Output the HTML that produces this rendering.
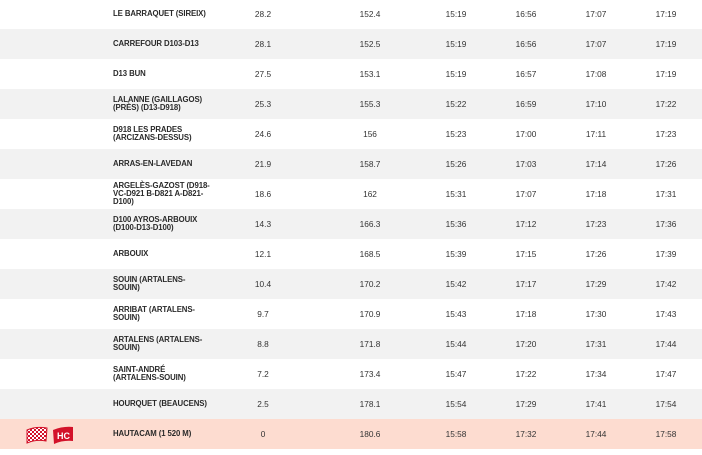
<!DOCTYPE html>
<html><head><meta charset="utf-8"><style>
body{margin:0;width:702px;height:455px;background:#fff;overflow:hidden;font-family:"Liberation Sans","DejaVu Sans",sans-serif;color:#222;}
.r{position:absolute;left:0;width:702px;height:30px;}
.g{background:#f2f2f2}.p{background:#fddcd0}
.n{position:absolute;left:113px;top:0;height:30px;width:112px;display:flex;align-items:center;font-size:7.8px;font-weight:bold;line-height:8px;color:#2a2a2a;letter-spacing:-0.1px}
.c{position:absolute;top:0;height:30px;line-height:30px;font-size:8.3px;text-align:center;width:50px;color:#333}
</style></head><body>
<div id="t"></div>
<script>
var d=[
["LE BARRAQUET (SIREIX)","28.2","152.4","15:19","16:56","17:07","17:19"],
["CARREFOUR D103-D13","28.1","152.5","15:19","16:56","17:07","17:19"],
["D13 BUN","27.5","153.1","15:19","16:57","17:08","17:19"],
["LALANNE (GAILLAGOS)<br>(PRÈS) (D13-D918)","25.3","155.3","15:22","16:59","17:10","17:22"],
["D918 LES PRADES<br>(ARCIZANS-DESSUS)","24.6","156","15:23","17:00","17:11","17:23"],
["ARRAS-EN-LAVEDAN","21.9","158.7","15:26","17:03","17:14","17:26"],
["ARGELÈS-GAZOST (D918-<br>VC-D921 B-D821 A-D821-<br>D100)","18.6","162","15:31","17:07","17:18","17:31"],
["D100 AYROS-ARBOUIX<br>(D100-D13-D100)","14.3","166.3","15:36","17:12","17:23","17:36"],
["ARBOUIX","12.1","168.5","15:39","17:15","17:26","17:39"],
["SOUIN (ARTALENS-<br>SOUIN)","10.4","170.2","15:42","17:17","17:29","17:42"],
["ARRIBAT (ARTALENS-<br>SOUIN)","9.7","170.9","15:43","17:18","17:30","17:43"],
["ARTALENS (ARTALENS-<br>SOUIN)","8.8","171.8","15:44","17:20","17:31","17:44"],
["SAINT-ANDRÉ<br>(ARTALENS-SOUIN)","7.2","173.4","15:47","17:22","17:34","17:47"],
["HOURQUET (BEAUCENS)","2.5","178.1","15:54","17:29","17:41","17:54"],
["HAUTACAM (1 520 M)","0","180.6","15:58","17:32","17:44","17:58"]];
var cx=[263,370,456,526,596,666],h="";
d.forEach(function(r,i){
var cls=i==14?"r p":(i%2?"r g":"r");
h+='<div class="'+cls+'" style="top:'+(-1+30*i)+'px"><div class="n">'+r[0]+'</div>';
for(var j=1;j<7;j++)h+='<div class="c" style="left:'+(cx[j-1]-25)+'px">'+r[j]+'</div>';
if(i==14){h+='<svg style="position:absolute;left:26px;top:6px" width="52" height="20"><defs><pattern id="ck" width="4" height="4" patternUnits="userSpaceOnUse"><rect width="4" height="4" fill="#fff"/><rect width="2" height="2" fill="#d3122a"/><rect x="2" y="2" width="2" height="2" fill="#d3122a"/></pattern></defs><path d="M1 5 Q10 1 21 3 L20 16 Q10 14 1 18Z" fill="url(#ck)" stroke="#d3122a" stroke-width="1"/><path d="M27 5 Q37 1 47 2 L47 16 Q37 15 28 19Z" fill="#d3122a"/><text x="31" y="14" font-size="9" font-weight="bold" fill="#fff" font-family="Liberation Sans">HC</text></svg>';}
h+='</div>';});
document.getElementById("t").innerHTML=h;
</script>
</body></html>
